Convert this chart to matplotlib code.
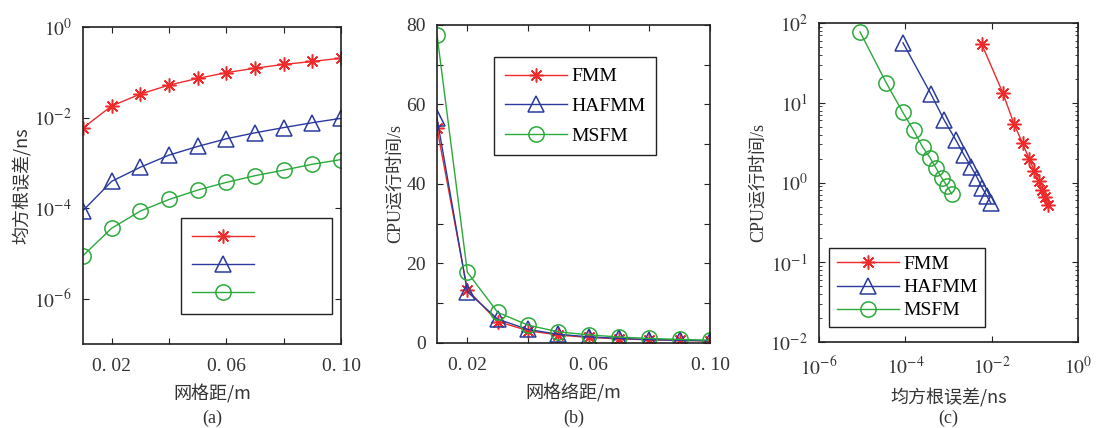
import numpy as np
import matplotlib
matplotlib.use("Agg")
import matplotlib.pyplot as plt
from matplotlib.ticker import FixedLocator, LogLocator, NullLocator, NullFormatter

plt.rcParams['font.family'] = ['Liberation Serif', 'Noto Sans CJK SC', 'DejaVu Sans']
plt.rcParams['mathtext.fontset'] = 'stix'

# ---------------- data ----------------
grid = [0.01, 0.02, 0.03, 0.04, 0.05, 0.06, 0.07, 0.08, 0.09, 0.10]
methods = ['FMM', 'HAFMM', 'MSFM']

rmse_fmm = [5.9e-3, 1.8e-2, 3.3e-2, 5.2e-2, 7.3e-2, 9.8e-2, 0.123, 0.149, 0.173, 0.205]
rmse_hafmm = [8.8e-5, 3.9e-4, 8.0e-4, 1.48e-3, 2.3e-3, 3.4e-3, 4.6e-3, 6.0e-3, 7.7e-3, 9.6e-3]
rmse_msfm = [8.9e-6, 3.6e-5, 8.6e-5, 1.55e-4, 2.5e-4, 3.7e-4, 5.2e-4, 6.9e-4, 9.3e-4, 1.18e-3]

cpu_fmm = [54.0, 13.4, 5.4, 3.1, 2.0, 1.4, 1.05, 0.8, 0.65, 0.52]
cpu_hafmm = [56.5, 12.9, 6.0, 3.4, 2.2, 1.55, 1.15, 0.86, 0.68, 0.55]
cpu_msfm = [77.5, 17.8, 7.7, 4.5, 2.8, 2.05, 1.5, 1.15, 0.9, 0.72]

x_ticks = [0.02, 0.04, 0.06, 0.08, 0.10]
x_ticklabels = ['0. 02', '', '0. 06', '', '0. 10']
b_yticks = [0, 10, 20, 30, 40, 50, 60, 70, 80]
b_yticklabels = ['0', '', '20', '', '40', '', '60', '', '80']

label_a_x = '网格距/m'
label_a_y = '均方根误差/ns'
label_b_x = '网格络距/m'
label_b_y = 'CPU运行时间/s'
label_c_x = '均方根误差/ns'
label_c_y = 'CPU运行时间/s'
panel_tags = ['(a)', '(b)', '(c)']

# ---------------- style ----------------
RED = '#ee2a2a'
BLUE = '#2a3a9e'
GREEN = '#2aaa3a'
colors = [RED, BLUE, GREEN]
star = (8, 2, 0)
markers = [star, '^', 'o']
msizes = [10, 11, 11]
lw = 1.0

fig = plt.figure(figsize=(11.05, 4.28), dpi=100)
fig.patch.set_facecolor('white')

axA = fig.add_axes([0.0751, 0.1963, 0.2335, 0.7407])
axB = fig.add_axes([0.3955, 0.1986, 0.2471, 0.7430])
axC = fig.add_axes([0.7412, 0.2009, 0.2344, 0.7453])

def style_axes(ax):
    for s in ax.spines.values():
        s.set_linewidth(1.2)
        s.set_color('#222222')
    ax.tick_params(which='both', direction='in', top=True, right=True,
                   labelsize=14, color='#222222', pad=8, labelcolor='#333333')
    ax.tick_params(axis='x', which='both', pad=10)
    ax.tick_params(which='major', length=4, width=0.8)
    ax.tick_params(which='minor', length=2, width=0.6)

def plot_line(ax, x, y, i, label):
    return ax.plot(x, y, color=colors[i], lw=lw, marker=markers[i], ms=msizes[i],
                   mfc='none', mec=colors[i], mew=1.1, label=label)[0]

cjk_first = ['Noto Sans CJK SC', 'Liberation Serif']
latin_first = ['Liberation Serif', 'Noto Sans CJK SC']

# ---- (a) ----
ha = []
for i, ys in enumerate([rmse_fmm, rmse_hafmm, rmse_msfm]):
    ha.append(plot_line(axA, grid, ys, i, methods[i]))
axA.set_yscale('log')
axA.set_xlim(0.01, 0.10)
axA.set_ylim(1e-7, 1e0)
axA.xaxis.set_major_locator(FixedLocator(x_ticks))
axA.set_xticklabels(x_ticklabels)
axA.yaxis.set_major_locator(FixedLocator([1e-6, 1e-4, 1e-2, 1e0]))
axA.yaxis.set_minor_locator(NullLocator())
axA.set_yticklabels([r'$10^{-6}$', r'$10^{-4}$', r'$10^{-2}$', r'$10^{0}$'])
style_axes(axA)
axA.set_xlabel(label_a_x, fontsize=13, family=cjk_first, labelpad=7, color='#333333')
axA.set_ylabel(label_a_y, fontsize=13, family=cjk_first, labelpad=2, color='#333333')
legA = axA.legend(ha, [' ' * 13] * 3, loc='upper left', bbox_to_anchor=(0.38, 0.397),
                  borderaxespad=0, fancybox=False, edgecolor='#222222', framealpha=1,
                  fontsize=14, handlelength=3.2, labelspacing=0.55, borderpad=0.55,
                  handletextpad=0.2)
legA.get_frame().set_linewidth(1.0)

# ---- (b) ----
hb = []
for i, ys in enumerate([cpu_fmm, cpu_hafmm, cpu_msfm]):
    hb.append(plot_line(axB, grid, ys, i, methods[i]))
axB.set_xlim(0.01, 0.10)
axB.set_ylim(0, 80)
axB.xaxis.set_major_locator(FixedLocator(x_ticks))
axB.set_xticklabels(x_ticklabels)
axB.yaxis.set_major_locator(FixedLocator(b_yticks))
axB.set_yticklabels(b_yticklabels)
style_axes(axB)
axB.set_xlabel(label_b_x, fontsize=13, family=cjk_first, labelpad=7, color='#333333')
axB.set_ylabel(label_b_y, fontsize=13, family=latin_first, labelpad=2, color='#333333')
legB = axB.legend(loc='upper left', bbox_to_anchor=(0.209, 0.899),
                  borderaxespad=0, fancybox=False, edgecolor='#222222', framealpha=1,
                  fontsize=14, handlelength=3.2, labelspacing=0.62, borderpad=0.55,
                  handletextpad=0.2)
legB.get_frame().set_linewidth(1.0)

# ---- (c) ----
hc = []
for i, (xs, ys) in enumerate(zip([rmse_fmm, rmse_hafmm, rmse_msfm],
                                 [cpu_fmm, cpu_hafmm, cpu_msfm])):
    hc.append(plot_line(axC, xs, ys, i, methods[i]))
axC.set_xscale('log')
axC.set_yscale('log')
axC.set_xlim(1e-6, 1e0)
axC.set_ylim(1e-2, 1e2)
axC.xaxis.set_major_locator(FixedLocator([1e-6, 1e-4, 1e-2, 1e0]))
axC.xaxis.set_minor_locator(NullLocator())
axC.set_xticklabels([r'$10^{-6}$', r'$10^{-4}$', r'$10^{-2}$', r'$10^{0}$'])
axC.yaxis.set_major_locator(FixedLocator([1e-2, 1e-1, 1e0, 1e1, 1e2]))
axC.yaxis.set_minor_locator(LogLocator(base=10, subs=np.arange(2, 10)))
axC.yaxis.set_minor_formatter(NullFormatter())
axC.set_yticklabels([r'$10^{-2}$', r'$10^{-1}$', r'$10^{0}$', r'$10^{1}$', r'$10^{2}$'])
style_axes(axC)
axC.set_xlabel(label_c_x, fontsize=13, family=cjk_first, labelpad=7, color='#333333')
axC.set_ylabel(label_c_y, fontsize=13, family=latin_first, labelpad=2, color='#333333')
legC = axC.legend(loc='upper left', bbox_to_anchor=(0.039, 0.295),
                  borderaxespad=0, fancybox=False, edgecolor='#222222', framealpha=1,
                  fontsize=14, handlelength=3.2, labelspacing=0.28, borderpad=0.4,
                  handletextpad=0.2)
legC.get_frame().set_linewidth(1.0)

# ---- panel tags ----
for ax, tag in zip([axA, axB, axC], panel_tags):
    pos = ax.get_position()
    fig.text(pos.x0 + pos.width / 2, 10 / 428, tag, ha='center', va='center',
             fontsize=13, family=['Liberation Serif'], color='#333333')

fig.savefig('out.png', dpi=100, facecolor='white')
